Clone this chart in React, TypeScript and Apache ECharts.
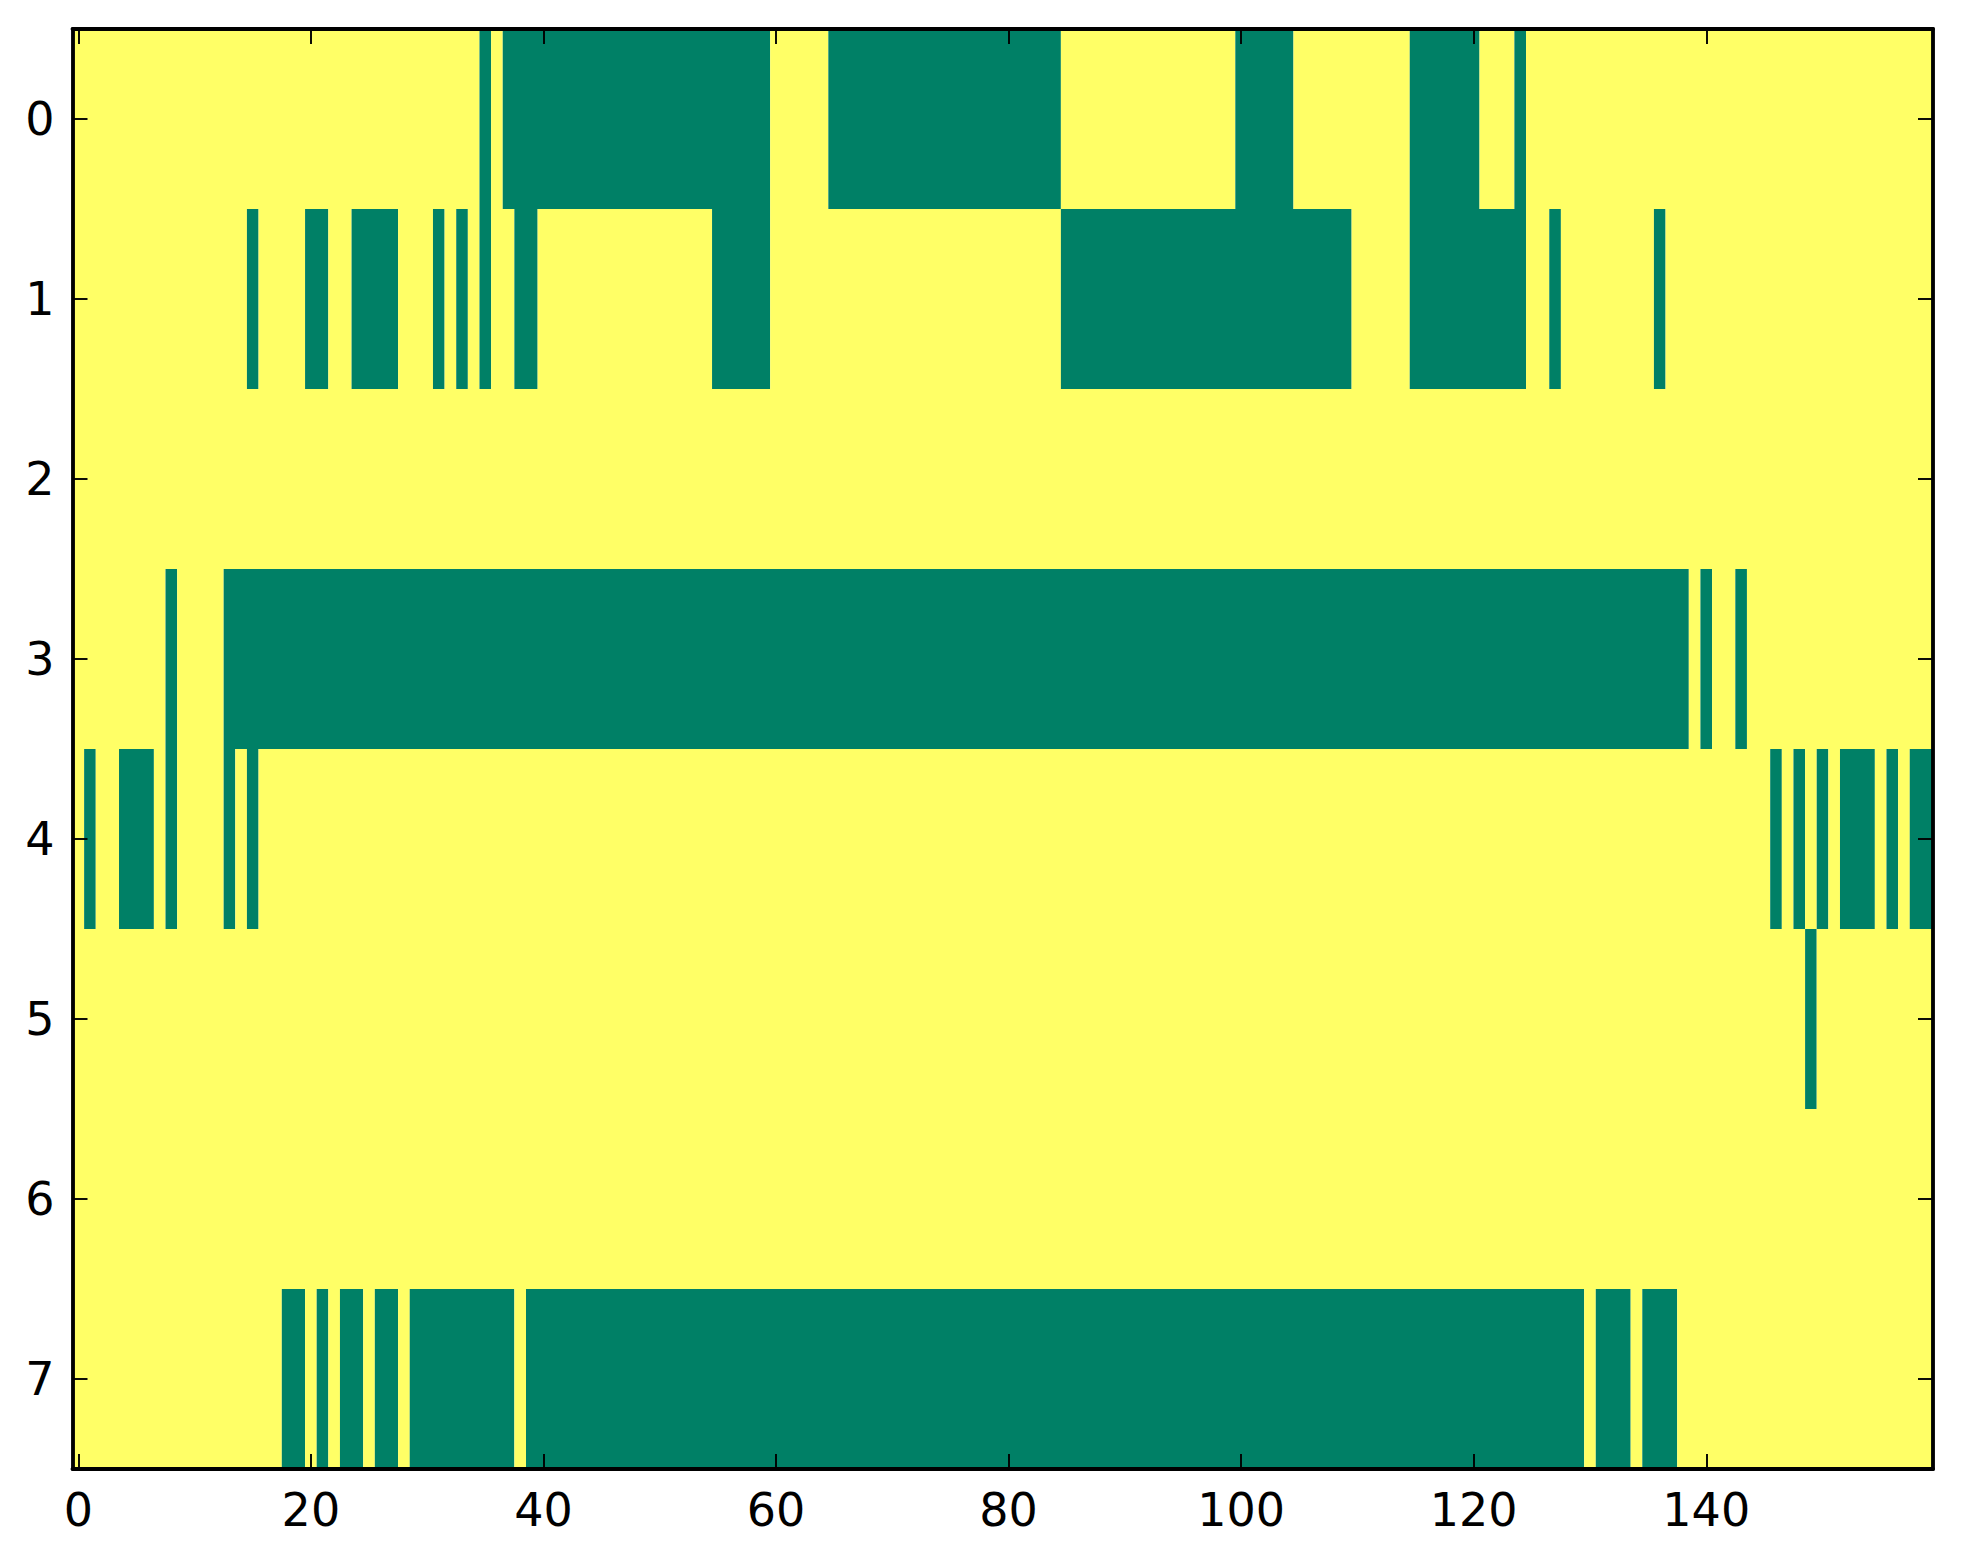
import React, { useEffect, useRef } from "react";
import * as echarts from "echarts";

// Green cell runs [startColumn, endColumn] per row (all other cells are yellow)
const row0 = [[35, 35], [37, 59], [65, 84], [100, 104], [115, 120], [124, 124]];
const row1 = [[15, 15], [20, 21], [24, 27], [31, 31], [33, 33], [35, 35], [38, 39], [55, 59], [85, 109], [115, 124], [127, 127], [136, 136]];
const row2: number[][] = [];
const row3 = [[8, 8], [13, 138], [140, 140], [143, 143]];
const row4 = [[1, 1], [4, 6], [8, 8], [13, 13], [15, 15], [146, 146], [148, 148], [150, 150], [152, 154], [156, 156], [158, 159]];
const row5 = [[149, 149]];
const row6: number[][] = [];
const row7 = [[18, 19], [21, 21], [23, 24], [26, 27], [29, 37], [39, 129], [131, 133], [135, 137]];
const rows = [row0, row1, row2, row3, row4, row5, row6, row7];

const nCols = 160;
const colCategories = Array.from({ length: nCols }, (_, i) => String(i));
const rowCategories = rows.map((_, i) => String(i));

const GREEN = "#008066";
const YELLOW = "#ffff66";

function buildRuns() {
  const out: number[][] = [];
  rows.forEach((runs, r) => {
    let cur = 0;
    const sorted = [...runs].sort((a, b) => a[0] - b[0]);
    sorted.forEach(([s, e]) => {
      if (s > cur) out.push([cur, r, s - 1, 0]);
      out.push([s, r, e, 1]);
      cur = e + 1;
    });
    if (cur < nCols) out.push([cur, r, nCols - 1, 0]);
  });
  return out;
}

export default function App() {
  const ref = useRef<HTMLDivElement>(null);
  useEffect(() => {
    if (!ref.current) return;
    const chart = echarts.init(ref.current, null, { renderer: "svg" });
    const font = "DejaVu Sans";
    const axisLine = { show: true, onZero: false, lineStyle: { color: "#000", width: 3.85 } };
    const tick = (interval: any) => ({
      show: true,
      inside: true,
      length: 15,
      alignWithLabel: true,
      interval,
      lineStyle: { color: "#000", width: 1.9 },
    });
    const xInterval = (i: number) => i % 20 === 0;
    chart.setOption({
      animation: false,
      backgroundColor: "#fff",
      grid: { left: 72.5, top: 29, width: 1860.5, height: 1440, containLabel: false },
      xAxis: [
        {
          type: "category",
          data: colCategories,
          position: "bottom",
          z: 5,
          axisLine,
          axisTick: tick(xInterval),
          axisLabel: { show: true, interval: xInterval, fontFamily: font, fontSize: 46, color: "#000", margin: 18 },
          splitLine: { show: false },
        },
        {
          type: "category",
          data: colCategories,
          position: "top",
          z: 5,
          axisLine,
          axisTick: tick(xInterval),
          axisLabel: { show: false },
          splitLine: { show: false },
        },
      ],
      yAxis: [
        {
          type: "category",
          data: rowCategories,
          inverse: true,
          position: "left",
          z: 5,
          axisLine,
          axisTick: tick(0),
          axisLabel: { show: true, interval: 0, fontFamily: font, fontSize: 46, color: "#000", margin: 18 },
          splitLine: { show: false },
        },
        {
          type: "category",
          data: rowCategories,
          inverse: true,
          position: "right",
          z: 5,
          axisLine,
          axisTick: tick(0),
          axisLabel: { show: false },
          splitLine: { show: false },
        },
      ],
      series: [
        {
          type: "custom",
          xAxisIndex: 0,
          yAxisIndex: 0,
          encode: { x: 0, y: 1 },
          data: buildRuns(),
          renderItem: (_params: any, api: any) => {
            const s = api.value(0);
            const r = api.value(1);
            const e = api.value(2);
            const k = api.value(3);
            const p = api.coord([s, r]);
            const size = api.size([1, 1]);
            return {
              type: "rect",
              shape: {
                x: p[0] - size[0] / 2,
                y: p[1] - size[1] / 2,
                width: size[0] * (e - s + 1),
                height: size[1],
              },
              style: { fill: k ? GREEN : YELLOW },
            };
          },
        },
      ],
    });
    return () => chart.dispose();
  }, []);
  return (
    <div
      ref={ref}
      style={{ position: "absolute", left: 0, top: 0, width: 1963, height: 1564, background: "#fff" }}
    />
  );
}
